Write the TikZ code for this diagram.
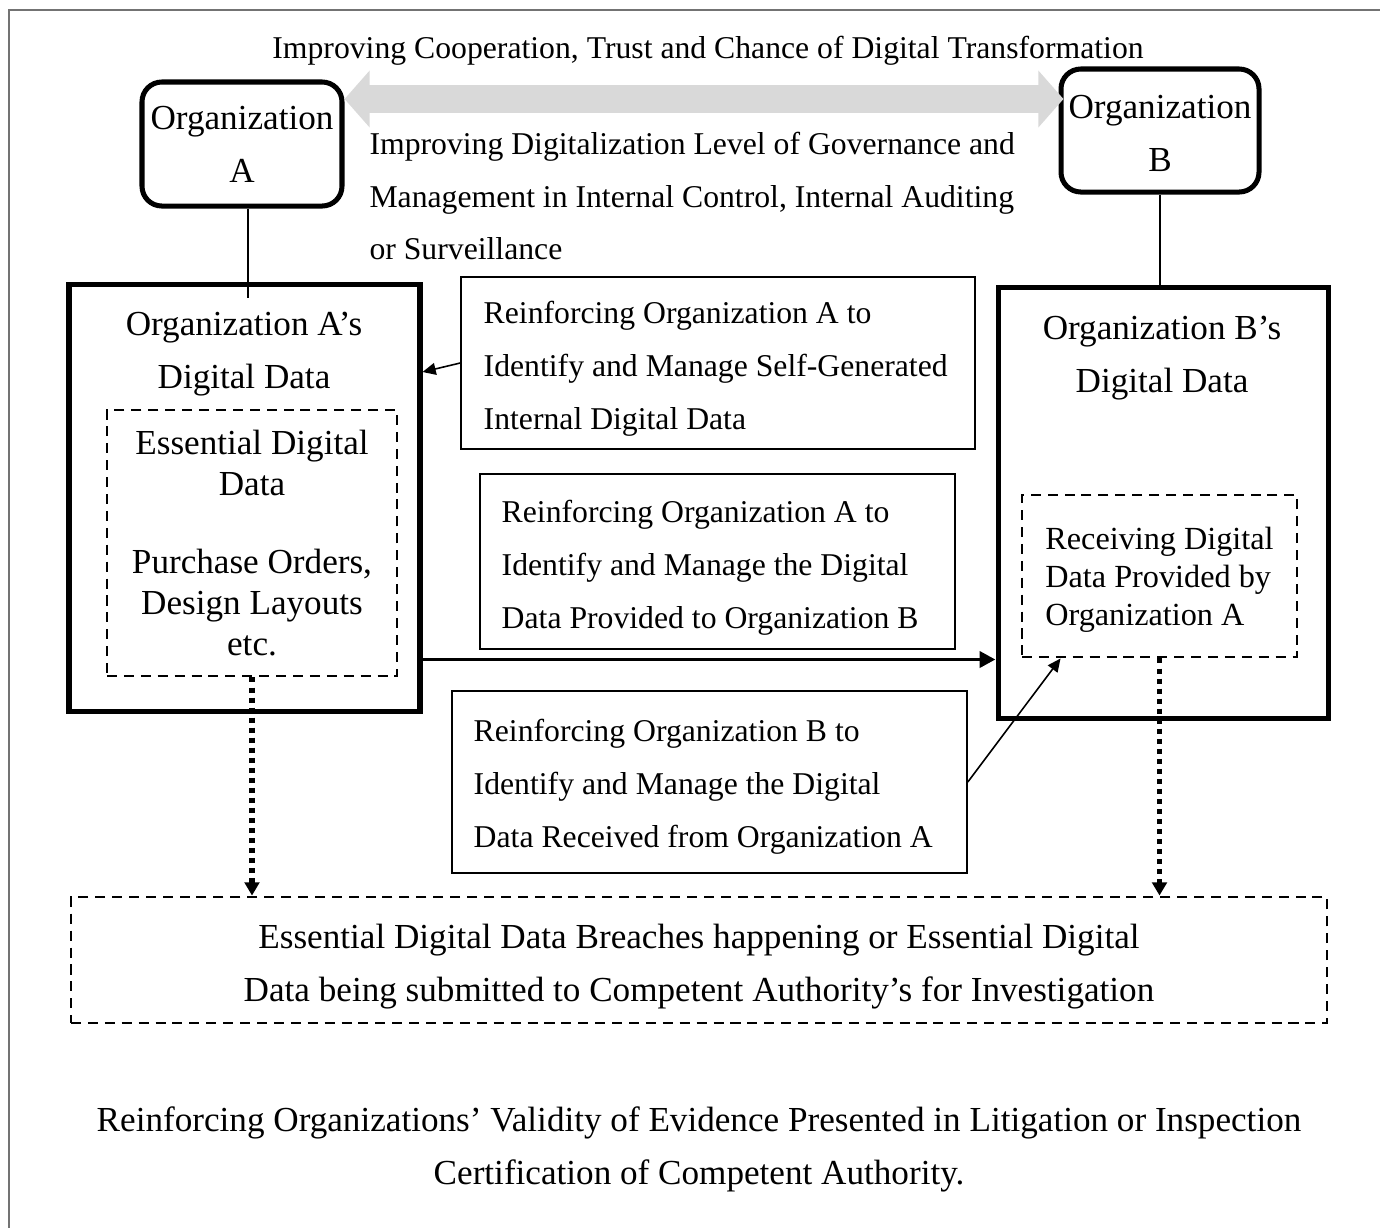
\documentclass[tikz,border=0pt]{standalone}
\usepackage{fontspec}
\setmainfont{Liberation Serif}
\usepackage{tikz}
\usetikzlibrary{arrows.meta}
\usetikzlibrary{fit}
\usetikzlibrary{calc}

\tikzset{
	txt/.style={inner sep=0pt, font=\fontsize{12}{20}\selectfont},
	notetxt/.style={txt, align=left, anchor=west, yshift=-2.3pt},
	bigtxt/.style={inner sep=0pt, align=center, font=\fontsize{13.3}{20}\selectfont},
	orgbox/.style={draw, line width=1.9pt, rounded corners=7.5pt, inner sep=0pt},
	databox/.style={draw, line width=1.9pt, inner sep=0pt},
	notebox/.style={draw, line width=0.6pt, inner sep=0pt},
	essbox/.style={draw, line width=1.1pt, dash pattern=on 3.8pt off 2.6pt, inner sep=0pt},
	grayarrow/.style={draw=black!15, line width=10.6pt, {Triangle[length=9.5pt,width=21pt]}-{Triangle[length=9.5pt,width=21pt]}},
	thinarrow/.style={line width=0.6pt, -{Triangle[length=5pt,width=4.5pt]}},
	thickarrow/.style={line width=1.5pt, -{Triangle[length=6pt,width=6pt]}},
	dotarrow/.style={line width=1.9pt, dash pattern=on 1.9pt off 1.9pt, -{Triangle[length=5pt,width=5.5pt]}}
}

\begin{document}
\begin{tikzpicture}[x=0.3785pt, y=-0.3785pt]
	\useasboundingbox (0,0) rectangle (1380,1227);
	\draw[black!55, line width=0.8pt] (9,1240) -- (9,10) -- (1390,10);

	\node[txt] (title) at (708,51) {Improving Cooperation, Trust and Chance of Digital Transformation};
	\node[orgbox, fit={(142,82) (342,206)}] (orgA) {};
	\node[bigtxt] (orgAt) at (orgA) {Organization\\A};
	\node[orgbox, fit={(1061,69) (1259,192)}] (orgB) {};
	\node[bigtxt, yshift=-1.1pt] (orgBt) at (orgB) {Organization\\B};
	\coordinate (band) at (700,99);
	\draw[grayarrow] (orgA.east |- band) -- ($(orgB.west |- band)+(5,0)$);
	\node[txt, align=left, anchor=west] (level) at (369,196) {Improving Digitalization Level of Governance and\\Management in Internal Control, Internal Auditing\\or Surveillance};

	\node[databox, fit={(69,284) (420,711)}] (boxA) {};
	\node[bigtxt] (headA) at (244,354) {Organization A’s\\Digital Data};
	\node[essbox, fit={(107,410) (397,676)}] (essA) {};
	\node[bigtxt, font=\fontsize{13.3}{15.5}\selectfont] (essAt) at (essA) {Essential Digital\\Data\\[14pt]Purchase Orders,\\Design Layouts\\etc.};

	\node[databox, fit={(998,287) (1328,718)}] (boxB) {};
	\node[bigtxt] (headB) at (1162,358) {Organization B’s\\Digital Data};
	\node[essbox, fit={(1022,495) (1297,657)}] (essB) {};
	\node[txt, align=left, yshift=-1.5pt, font=\fontsize{12.2}{14.4}\selectfont] (essBt) at (essB) {Receiving Digital\\Data Provided by\\Organization A};

	\node[notebox, fit={(461,277) (975,449)}] (box1) {};
	\node[notetxt] (box1t) at ($(box1.west)+(23,0)$) {Reinforcing Organization A to\\Identify and Manage Self-Generated\\Internal Digital Data};
	\node[notebox, fit={(480,474) (955,649)}] (box2) {};
	\node[notetxt] (box2t) at ($(box2.west)+(22,0)$) {Reinforcing Organization A to\\Identify and Manage the Digital\\Data Provided to Organization B};
	\node[notebox, fit={(452,691) (967,873)}] (box3) {};
	\node[notetxt, yshift=0.6pt] (box3t) at ($(box3.west)+(22,0)$) {Reinforcing Organization B to\\Identify and Manage the Digital\\Data Received from Organization A};

	\node[essbox, fit={(71,897) (1327,1023)}] (breach) {};
	\node[bigtxt, yshift=-2.5pt] (breacht) at (breach) {Essential Digital Data Breaches happening or Essential Digital\\Data being submitted to Competent Authority’s for Investigation};
	\node[bigtxt] (valid) at (699,1149) {Reinforcing Organizations’ Validity of Evidence Presented in Litigation or Inspection\\Certification of Competent Authority.};

	\draw[line width=0.6pt] ($(orgA.south)+(6,0)$) -- ($(orgA.south |- boxA.north)+(6,16)$);
	\draw[line width=0.6pt] (orgB.south) -- (orgB.south |- boxB.north);
	\draw[thinarrow] (box1.west) -- ($(boxA.east |- box1.west)+(0,9)$);
	\coordinate (flowA) at ($(boxA.east)+(0,162)$);
	\draw[thickarrow] (flowA) -- (flowA -| boxB.west);
	\draw[thinarrow] (box3.east) -- ($(essB.south west)+(40,0)$);
	\draw[dotarrow] (essA.south) -- (essA.south |- breach.north);
	\draw[dotarrow] (essB.south) -- (essB.south |- breach.north);
\end{tikzpicture}
\end{document}
